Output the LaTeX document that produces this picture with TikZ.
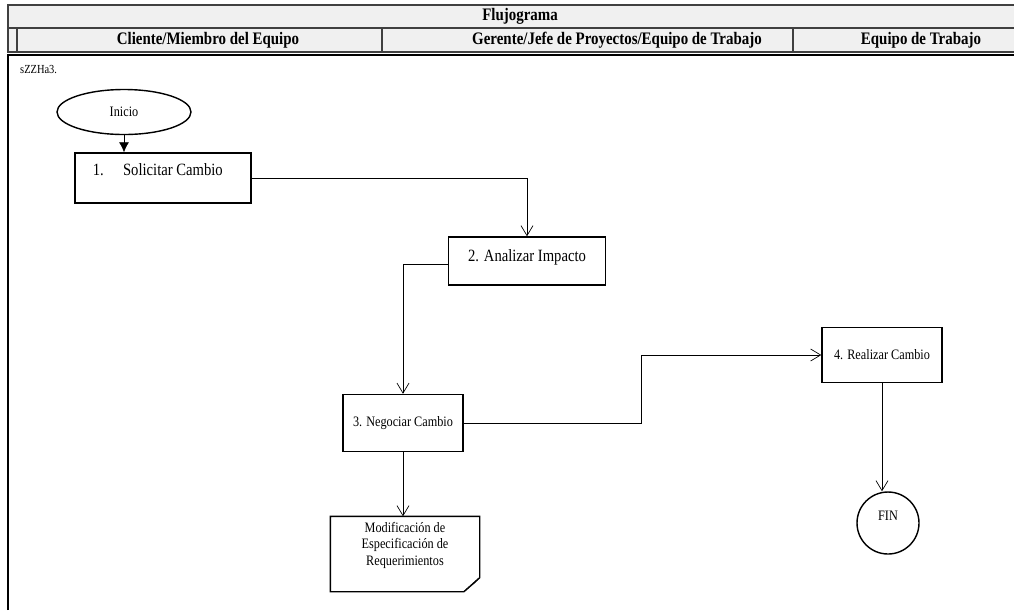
\documentclass[tikz,border=0pt]{standalone}
\usepackage{fontspec}
\setmainfont{Liberation Serif}[FakeStretch=0.85]
\usetikzlibrary{positioning, shapes.geometric, arrows.meta}
\definecolor{headgray}{HTML}{F0F0F0}
\tikzset{
    block/.style={
        draw, thick,
        inner sep = 1pt,
        align = center,
        font = \fontsize{8.2}{9.4}\selectfont
    },
    bigtext/.style = {font = \fontsize{9.8}{11}\selectfont},
    headcell/.style = {draw=black!75, thick, fill=headgray},
    headtext/.style = {font = \fontsize{10}{12}\selectfont\bfseries},
    line/.style = {-{Straight Barb[length=2mm, width=2.4mm]}},
    fline/.style = {-{Latex[length=2mm, width=2mm]}}
}

\begin{document}
\begin{tikzpicture}[x=0.02cm, y=-0.02cm]

    \useasboundingbox (0,0) rectangle (1014,610);

    % Header
    \draw[headcell] (8,5) rectangle (1030,28);
    \draw[headcell] (8,28) rectangle (1030,52);
    \draw[headcell] (17,28) rectangle (382,52);
    \draw[headcell] (382,28) rectangle (793,52);
    \draw[headcell] (793,28) rectangle (1030,52);
    \node[headtext] (title) at (520,16) {Flujograma};
    \node[headtext] (colA) at (208,40) {Cliente/Miembro del Equipo};
    \node[headtext] (colB) at (617,40) {Gerente/Jefe de Proyectos/Equipo de Trabajo};
    \node[headtext] (colC) at (921,40) {Equipo de Trabajo};

    % Swimlane frame
    \draw[thick] (8,610) -- (8,55) -- (1030,55);
    \node[anchor=west, font=\fontsize{7}{8}\selectfont] (code) at (14,70) {sZZHa3.};

    % Blocks
    \node[block, ellipse, minimum width=134*0.02cm, minimum height=45*0.02cm] (inicio) at (124,112) {Inicio};
    \node[block, minimum width=176*0.02cm, minimum height=50*0.02cm,
        label={[bigtext, anchor=north west, xshift=7pt, yshift=-3pt]north west:{1.\hspace{11pt}Solicitar Cambio}}] (solicitar) at (163,178) {};
    \node[block, minimum width=157*0.02cm, minimum height=48*0.02cm,
        label={[bigtext, anchor=north, yshift=-4pt]north:{2. Analizar Impacto}}] (analizar) at (527,261) {};
    \node[block, minimum width=120*0.02cm, minimum height=57*0.02cm] (negociar) at (403,423) {3. Negociar Cambio};
    \node[block, minimum width=120*0.02cm, minimum height=55*0.02cm] (realizar) at (882,355) {4. Realizar Cambio};
    \node[block, circle, minimum size=62*0.02cm, text depth=8pt] (fin) at (888,523) {FIN};

    % Document shape
    \node[block, draw=none, minimum width=148*0.02cm, minimum height=74*0.02cm, text depth=12pt] (modif) at (405,554)
        {Modificación de\\Especificación de\\Requerimientos};
    \draw[thick] (modif.north west) -- (modif.north east) -- ([yshift=8pt]modif.south east)
        -- ([xshift=-9pt]modif.south east) -- (modif.south west) -- cycle;
    \draw[fill=gray!45] ([yshift=8pt]modif.south east) -- ([xshift=-9pt]modif.south east)
        -- ([shift={(-3pt,5pt)}]modif.south east) -- cycle;

    % Lines
    \draw[fline] (inicio.south) -- (inicio.south |- solicitar.north);
    \draw[line] (solicitar.east) -| (analizar.north);
    \draw[line] ([yshift=-2pt]analizar.west) -| (negociar.north);
    \draw[line] (negociar.east) -| (641,355) -- (realizar.west);
    \draw[line] (realizar.south) -- (realizar.south |- fin.north);
    \draw[line] (negociar.south) -- (negociar.south |- modif.north);

\end{tikzpicture}
\end{document}
